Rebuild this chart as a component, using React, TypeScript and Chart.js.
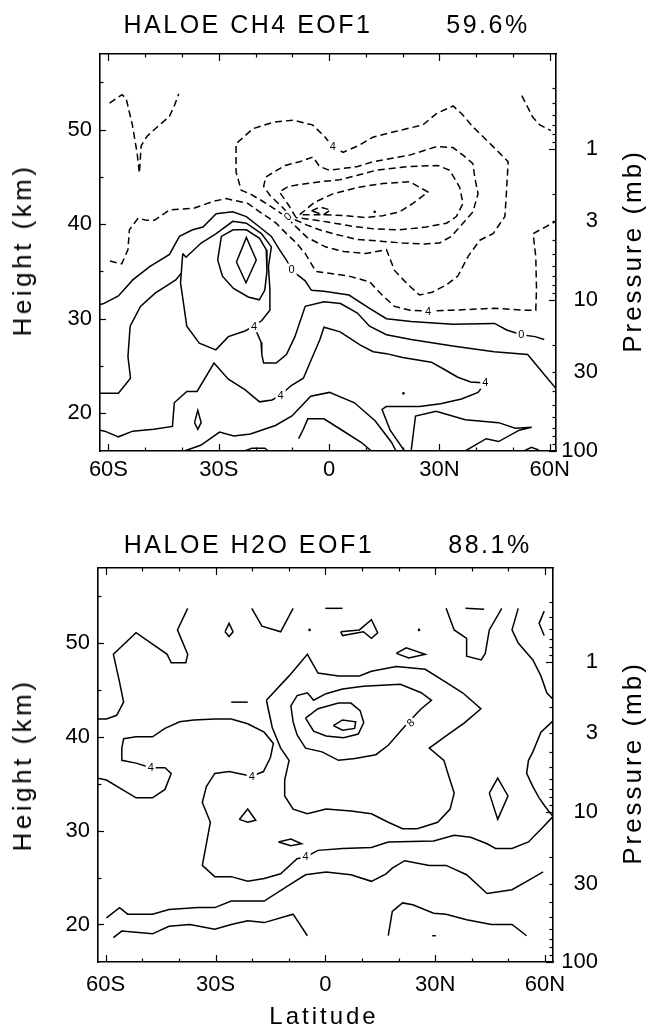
import React, { useEffect, useRef } from "react";
import { Chart, registerables } from "chart.js";

Chart.register(...registerables);

type Pt = [number, number]; // [latitude (deg, S negative), height (km)]
type Label = { text: string; lat: number; km: number; angle?: number };

const FONT = "'Liberation Sans', Arial, Helvetica, sans-serif";

// ---------- axis ticks ----------
const LAT_LABEL_TICKS = [-60, -30, 0, 30, 60];
const LAT_LABELS = ["60S", "30S", "0", "30N", "60N"];
const LAT_MINOR_TICKS = [-60, -50, -40, -30, -20, -10, 0, 10, 20, 30, 40, 50, 60];
const HEIGHT_LABEL_TICKS = [20, 30, 40, 50];
const HEIGHT_MINOR_TICKS = [20, 25, 30, 35, 40, 45, 50, 55];
const PRESSURE_LABEL_TICKS = [1, 3, 10, 30, 100];
const PRESSURE_MINOR_TICKS = [
  0.4, 0.5, 0.6, 0.7, 0.8, 0.9, 1, 2, 3, 4, 5, 6, 7, 8, 9, 10, 20, 30, 40, 50, 60, 70, 80, 90, 100,
];
const PRESSURE_MAJOR_TICKS = [1, 10, 100];
const HEIGHT_MIN = 16;
const HEIGHT_MAX = 58;
const KM_PER_DECADE = 16; // log-pressure height: z = 16 * log10(1000 / p)

// ---------- HALOE CH4 EOF1 contours ----------
// negative (dashed)
const ch4NegV: Pt[] = [
  [-59.7, 52.8], [-56.3, 53.7], [-55.2, 53.3], [-53.5, 50.5], [-52.2, 47.5], [-51.6, 45.4],
  [-51.1, 48.3], [-49.5, 49.3], [-46.1, 50.5], [-43.4, 51.4], [-42, 52.6], [-40.9, 53.8],
];
const ch4NegNE: Pt[] = [[52.4, 53.6], [55.4, 51.3], [57.3, 50.5], [60.3, 49.9]];
const ch4NegOuter: Pt[] = [
  [-59.6, 36.1], [-56.4, 35.8], [-54.7, 37.3], [-54.3, 39.4], [-52, 40.6], [-49.5, 40.4],
  [-47.5, 40.4], [-43.4, 41.5], [-36.6, 41.7], [-31.6, 42.4], [-28, 42.7], [-22.1, 42.2],
  [-18.9, 41.3], [-16.2, 40.6], [-14.4, 40.1], [-11.6, 39], [-8.9, 38], [-6.5, 36.9],
  [-3.6, 35], [0, 34.8], [5.4, 34.5], [11, 33.9], [14.4, 32.5], [17.8, 31.3], [22, 30.9],
  [26.9, 30.8], [33.6, 30.9], [44.9, 31.1], [52.8, 30.9], [56.2, 30.9], [56.4, 33.1],
  [56.2, 36.6], [55.9, 37.5], [55.5, 39], [56.9, 39.3], [61.7, 40.3],
];
const ch4NegC1: Pt[] = [
  [-10, 40.1], [-11.2, 40.6], [-14.4, 41.5], [-18.4, 42.5], [-21.5, 43.2], [-23.9, 43.6],
  [-25.3, 45.5], [-25.3, 48.5], [-20.7, 50.1], [-15, 50.8], [-9.8, 51], [-4.5, 50.5],
  [-1.3, 49.3], [1, 48.2], [3.8, 47.6], [8, 48.3], [11.9, 49.2], [18, 49.8], [25.5, 50.5],
  [29.2, 51.7], [33.7, 52.5], [36, 51.7], [39.1, 50.3], [44.6, 48.2], [48.7, 46.6],
  [48.2, 43.2], [47.8, 40.8], [44.6, 39], [41, 38.3], [37.8, 36.6], [35, 34.5], [32, 33.6],
  [28, 32.8], [24.6, 32.5], [21.2, 33.7], [17.8, 35.1], [15.6, 37.3], [10, 36.9], [4, 37.1],
  [-1, 37.6], [-6, 38.6], [-10, 40.1],
];
const ch4NegC2: Pt[] = [
  [-9.5, 40.5], [-13, 41.9], [-16, 43], [-17.8, 44], [-17.2, 45], [-12, 46.2], [-8, 46.6],
  [-4.4, 47.1], [-2.6, 46.1], [0.1, 45.7], [7.8, 46.1], [11.9, 46.6], [21.9, 47.3],
  [29.2, 48.2], [33.7, 48.1], [36.4, 47.3], [39.1, 46.4], [39.6, 45], [40.5, 43.2],
  [39.1, 41.3], [35.5, 39.7], [33.2, 38.7], [30, 38], [26, 37.9], [20, 38], [14, 38.2],
  [7.4, 38.4], [2, 38.9], [-2.6, 39.4], [-6, 39.9], [-9.5, 40.5],
];
const ch4NegC3: Pt[] = [
  [-9, 40.7], [-11, 42], [-13.5, 43.4], [-11, 44], [-6, 44.3], [-2, 44.5], [2.9, 44.7],
  [8, 45.2], [12.8, 45.7], [21.9, 46.1], [29.6, 46.2], [32.8, 45.7], [35.5, 43.9],
  [36.4, 42.2], [34.6, 40.8], [31.9, 40.1], [26.4, 39.7], [19.2, 39.4], [12, 39.5],
  [6, 39.8], [0, 40.2], [-5, 40.5], [-9, 40.7],
];
const ch4NegC4: Pt[] = [
  [-8, 41], [-4, 42.3], [1, 43.2], [8, 43.9], [14.6, 44.3], [21.9, 44.5], [26.9, 43.4],
  [22.8, 42.2], [19.2, 41.3], [14.6, 40.9], [10, 40.7], [4, 40.9], [-2, 41], [-8, 41],
];
const ch4NegSmall: Pt[] = [[-4.8, 41.4], [-2.5, 41.8], [0.4, 41.5], [-1.5, 41], [-4.8, 41.4]];

// zero and positive (solid)
const ch4Zero: Pt[] = [
  [-62.3, 31.5], [-61.3, 31.6], [-57.3, 32.4], [-53.4, 34.1], [-48.8, 35.5], [-43.4, 36.8],
  [-40.7, 38.7], [-37.1, 39.4], [-34.3, 39.7], [-30.7, 41.1], [-26.2, 41.3], [-22.5, 40.8],
  [-18.9, 39.7], [-15.7, 38.7], [-13.5, 37.3], [-11.6, 36.2], [-10.2, 35.2], [-8.5, 34.6],
  [-6.5, 34], [-4.8, 33], [-1.4, 32.9], [5.4, 32.5], [11, 31.1], [15.6, 30], [22.3, 29.7],
  [33.6, 29.4], [45, 29.5], [48.3, 28.8], [52.3, 28.3], [56, 28.1], [58.5, 27.8],
];
const ch4Pos4Loop: Pt[] = [
  [-39.8, 36.9], [-40.4, 33.8], [-38.7, 29.2], [-35.3, 27.4], [-30.8, 26.7], [-27.4, 28.1],
  [-22.9, 28.7], [-20.4, 29.2], [-18.3, 29.8], [-16.1, 30.9], [-16.1, 33.1], [-16.5, 35.5],
  [-15.7, 37.6], [-18.4, 39], [-22.5, 40.1], [-26.2, 40.3], [-30.7, 39], [-34.8, 38],
  [-38.9, 36.5], [-39.8, 36.9],
];
const ch4Pos8: Pt[] = [
  [-30.3, 36.2], [-29.3, 38.7], [-26.1, 39.4], [-22.5, 39.4], [-18.9, 38.5], [-17.1, 37.3],
  [-16.9, 35], [-17.5, 33], [-19, 32], [-22, 32.3], [-26, 33.2], [-29, 34.5], [-30.3, 36.2],
];
const ch4Pos12: Pt[] = [[-25.2, 36], [-22.5, 38.6], [-19.8, 36.2], [-22.6, 33.8], [-25.2, 36]];
const ch4Pos4West: Pt[] = [
  [-62.3, 22.1], [-57.3, 22.1], [-54, 23.7], [-54.7, 26], [-54.1, 29.2], [-51.3, 31.3],
  [-47.3, 32.7], [-41.7, 34.1], [-40.2, 34.8],
];
const ch4Pos4Low: Pt[] = [
  [-62.3, 18.2], [-61, 18.1], [-57.3, 17.5], [-53.4, 18.1], [-47.7, 18.3], [-42.6, 18.6],
  [-42.1, 21.1], [-38.7, 22.3], [-35.9, 22.3], [-31.3, 25.3], [-27.4, 23.6], [-22.9, 22.5],
  [-18.9, 21.2], [-15.5, 21.4], [-13.2, 21.9], [-10.4, 22.9], [-7, 23.7], [-4.8, 25.7],
  [-2.5, 27.8], [-1.4, 29.1], [3, 28.6], [8.5, 27.2], [12, 26.5], [15.6, 26.3], [20, 25.9],
  [27.8, 25.4], [31, 24.7], [35, 23.8], [38.5, 23.3], [42.5, 23.2], [40.5, 22.2], [36, 21.5],
  [30.3, 21], [24.6, 20.7], [15.5, 20.7], [14.4, 20.4], [16.6, 18.2], [20.5, 16],
];
const ch4Pos4Mid: Pt[] = [
  [-20.4, 29.2], [-18.5, 27.5], [-18.3, 26.2], [-17.8, 25.3], [-14.4, 25.3], [-11.6, 26.2],
  [-9.3, 28.1], [-6.5, 31.3], [-1.4, 31.8], [3.1, 31.6], [7.7, 30.6], [11, 29.2],
  [15.6, 28.3], [22.3, 27.8], [33.6, 27.1], [44.9, 26.5], [54, 26.2], [58.5, 24.1], [61.7, 22.6],
];
const ch4PosBase: Pt[] = [
  [-39.4, 16], [-34.9, 16.6], [-29.8, 18], [-25.9, 17.6], [-21.4, 17.8], [-14.6, 18.7],
  [-10.1, 19.7], [-5, 21.8], [0.1, 22.2], [6.9, 21.1], [12.5, 19.2], [17, 16.9], [18.2, 16],
];
const ch4PosHump: Pt[] = [
  [-8.3, 17.3], [-7, 18.3], [-5.8, 19.4], [-1.4, 19.4], [3.1, 18.3], [8.8, 16.9], [11.5, 16],
];
const ch4PosSE: Pt[] = [
  [22.3, 16], [23.5, 19.7], [29.1, 20.2], [37, 19.3], [46.1, 19], [50.6, 18.4], [55.1, 18.5],
  [51.7, 18.2], [46.1, 17], [42.7, 17.3], [37, 16],
];
const ch4PosSmall: Pt[] = [[-36.6, 19], [-35.7, 20.3], [-34.8, 19], [-35.7, 18.3], [-36.6, 19]];
const ch4BaseArcW: Pt[] = [[-23, 16], [-21, 16.3], [-17.5, 16.3], [-16.5, 16]];
const ch4BaseArcE: Pt[] = [[53, 16], [55, 16.4], [57, 16.1]];
const ch4Dots: Pt[] = [[12.4, 41.3], [20.2, 22.1]];

const ch4Labels: Label[] = [
  { text: "4", lat: 1, km: 48.2 },
  { text: "0", lat: -11.2, km: 40.8, angle: -40 },
  { text: "0", lat: -10.2, km: 35.2 },
  { text: "4", lat: 26.9, km: 30.8 },
  { text: "0", lat: 52.3, km: 28.3 },
  { text: "4", lat: -20.4, km: 29.2 },
  { text: "4", lat: -13.2, km: 21.9 },
  { text: "4", lat: 42.5, km: 23.2 },
];

// ---------- HALOE H2O EOF1 contours (all solid) ----------
const h2oUpperLeft: Pt[] = [
  [-62.1, 41.9], [-59.8, 41.9], [-57, 42.3], [-55.1, 43.7], [-56.2, 45.8], [-57.9, 48.8],
  [-51.7, 51.1], [-43.2, 48.8], [-42.1, 47.9], [-38.1, 47.9], [-37.6, 48.8], [-40.4, 51.4],
  [-37.6, 53.7],
];
const h2oLoopA: Pt[] = [[-27.4, 51.2], [-26.3, 52.1], [-25.2, 51.2], [-26.3, 50.7], [-27.4, 51.2]];
const h2oVWest: Pt[] = [[-20.1, 53.7], [-17.3, 51.8], [-12.2, 51.2], [-8.8, 53.7]];
const h2oTopDashW: Pt[] = [[0, 53.7], [4.7, 53.7]];
const h2oBowtie: Pt[] = [
  [4.2, 51.2], [9.3, 51.4], [12.6, 52.5], [14.3, 51.1], [12.6, 50.5], [10.4, 51.2], [4.7, 50.8], [4.2, 51.2],
];
const h2oLoopB: Pt[] = [[19.4, 48.9], [22.1, 49.5], [27.3, 48.8], [22.8, 48.4], [19.4, 48.9]];
const h2oTopDashE: Pt[] = [[38.3, 53.7], [43.4, 53.6]];
const h2oVEast: Pt[] = [
  [33, 53.7], [35.2, 51.4], [38.6, 50.5], [38.6, 48.6], [42.6, 48.2], [43.7, 48.9], [44.8, 51.4], [48.2, 53.7],
];
const h2oRightUpper: Pt[] = [
  [52.7, 53.7], [51, 51.4], [52.7, 50], [56.7, 48.2], [58.9, 46.5], [60.5, 44.7], [62.2, 44],
];
const h2oRightArc: Pt[] = [[59.8, 53.4], [58.4, 52.1], [59.8, 50.8]];
const h2oRightLower: Pt[] = [
  [62.2, 41.7], [58.9, 40.5], [56.7, 38.4], [55.5, 37.5], [55, 36.1], [56.7, 34.7], [58.4, 33.5],
  [60, 32.6], [62.2, 31.5],
];
const h2oFour: Pt[] = [
  [-62.1, 35.6], [-59.8, 35.4], [-51.7, 33.5], [-47.2, 33.5], [-43.8, 34.4], [-42.1, 36.1],
  [-43.8, 36.7], [-47.7, 36.7], [-51.7, 37.2], [-55.6, 37.5], [-55.6, 38.8], [-55.1, 39.8],
  [-51.7, 40], [-47.2, 40], [-43.8, 40.9], [-39.8, 41.6], [-35.9, 41.8], [-30.2, 41.9],
  [-25.7, 41.9], [-21.2, 41.4], [-16.7, 40.5], [-14.2, 39.3], [-15, 37.8], [-16.9, 36.3],
  [-20.1, 35.8], [-26.3, 36.3], [-30.2, 36.1], [-32.5, 34.7], [-33.6, 33], [-31.4, 30.9],
  [-33.6, 26.3], [-30.2, 25.1], [-25.7, 25.1], [-21.2, 24.6], [-16.7, 24.9], [-12.2, 25.4],
  [-7.7, 27], [-5.4, 27.2], [-2, 27.9], [4.7, 28.1], [12.6, 28.2], [17.2, 28.8], [29.6, 28.9],
  [35.2, 29.5], [39.7, 29.3], [44.2, 28.6], [46.5, 28.1], [51, 28.1], [55.5, 28.8],
  [59.5, 30.4], [62.2, 31.5],
];
const h2oCenter: Pt[] = [
  [-16.1, 43.9], [-9.9, 46.5], [-4.9, 48.8], [-2, 46.8], [3.6, 46.5], [9.3, 46.5], [12.6, 47],
  [19.4, 47.5], [27.3, 47.2], [33, 45.8], [37.5, 44.7], [42.5, 43], [38, 41.5], [33, 40.1],
  [28.4, 38.8], [32.4, 37.5], [33.5, 36.1], [35.2, 34], [34.1, 32.3], [30.7, 30.9],
  [25.1, 30.2], [21.1, 30.2], [17.2, 30.9], [12.6, 31.8], [7, 32.1], [0.2, 32.3], [-4.9, 31.8],
  [-8.8, 32.3], [-11.1, 33.7], [-11.1, 35.4], [-9.9, 37.5], [-12.2, 38.8], [-14.5, 41],
  [-16.1, 43.9],
];
const h2oEight: Pt[] = [
  [22.8, 41.6], [17.2, 39.1], [13.8, 38.1], [8.1, 37.7], [3.6, 37.5], [-0.9, 38.4],
  [-5.4, 38.8], [-7.7, 40.2], [-8.8, 41.6], [-9.4, 43.3], [-7.7, 44.4], [-4.9, 44.7],
  [-3.2, 43.9], [0.2, 44.6], [4.7, 45.1], [10.4, 45.4], [20.5, 45.6], [26.2, 44.7],
  [29, 43.9], [26.2, 43], [22.8, 41.6],
];
const h2oTwelve: Pt[] = [
  [-5.4, 42], [-2, 43], [3.6, 43.6], [7, 43.6], [9.5, 42.8], [10.5, 41.5], [9, 40.3], [5, 39.9],
  [0.2, 40.1], [-3.2, 40.6], [-5.4, 42],
];
const h2oSixteen: Pt[] = [[2.2, 41.2], [4.7, 41.8], [8.3, 41.6], [8, 40.9], [4.7, 40.7], [2.2, 41.2]];
const h2oSmallTri: Pt[] = [[-23.5, 31.2], [-21.2, 32.3], [-19, 31.1], [-21.2, 30.9], [-23.5, 31.2]];
const h2oSmallLoop: Pt[] = [[-12.8, 28.8], [-9.4, 29.1], [-6.5, 28.6], [-9.4, 28.4], [-12.8, 28.8]];
const h2oDiamond: Pt[] = [[44.8, 34], [47.1, 35.6], [49.9, 33.7], [47.1, 31.2], [44.8, 34]];
const h2oDashMid: Pt[] = [[-25.7, 43.7], [-21.2, 43.7]];
const h2oDashLow: Pt[] = [[29.2, 18.8], [30.2, 18.8]];
const h2oLowA: Pt[] = [
  [-59.8, 20.7], [-56.2, 21.8], [-54, 21.1], [-47.2, 21.1], [-42.7, 21.6], [-34.8, 21.8],
  [-30.2, 21.8], [-25.7, 22.5], [-16.7, 22.5], [-9.9, 24.2], [-5.4, 25.3], [0.2, 25.6],
  [7, 25.3], [12.6, 24.6], [16.6, 25.4], [18.3, 26], [21.7, 26.8], [28.4, 26.3], [33, 26.3],
  [38.6, 25.3], [44.2, 23.3], [51, 23.7], [55.5, 24.7], [59.5, 25.6],
];
const h2oLowB: Pt[] = [
  [-57.9, 18.6], [-55.6, 19.3], [-47.2, 19], [-42.7, 19.8], [-37, 20], [-30.2, 19.5],
  [-25.7, 20], [-21.2, 20.4], [-16.7, 20.2], [-8.8, 21.1], [-4.9, 18.8],
];
const h2oLowC: Pt[] = [
  [17.2, 18.8], [18.3, 21.4], [21.1, 22.3], [23.9, 22.1], [29.6, 21.2], [33, 21.1],
  [38.6, 20.5], [45.4, 20], [51, 20], [55, 18.8],
];
const h2oDots: Pt[] = [[-4.3, 51.4], [25.6, 51.4]];

const h2oLabels: Label[] = [
  { text: "4", lat: -47.7, km: 36.7 },
  { text: "4", lat: -20.1, km: 35.8 },
  { text: "4", lat: -5.4, km: 27.2 },
  { text: "8", lat: 23.3, km: 41.5, angle: -45 },
];

// ---------- chart construction ----------
type Frame = { left: number; right: number; top: number; bottom: number };
type PanelProps = {
  solid: Pt[][];
  dashed: Pt[][];
  dots: Pt[];
  labels: Label[];
  latMin: number;
  latMax: number;
  frame: Frame;
  xLabelPad: number;
};

const CANVAS_W = 649;
const CANVAS_H = 515;
const RIGHT_LABEL_EDGE = 598;

const pressureAt = (km: number) => 1000 / Math.pow(10, km / KM_PER_DECADE);

const innerTicksPlugin = {
  id: "innerTicks",
  afterDraw(chart: any) {
    const { ctx, chartArea: a, scales } = chart;
    ctx.save();
    ctx.strokeStyle = "#000";
    ctx.lineWidth = 1.2;
    const mark = (x1: number, y1: number, x2: number, y2: number) => {
      ctx.beginPath();
      ctx.moveTo(x1, y1);
      ctx.lineTo(x2, y2);
      ctx.stroke();
    };
    for (const v of LAT_MINOR_TICKS) {
      const x = Math.round(scales.x.getPixelForValue(v)) + 0.5;
      const len = v % 30 === 0 ? 7 : 3.5;
      mark(x, a.bottom, x, a.bottom - len);
      mark(x, a.top, x, a.top + len);
    }
    for (const v of HEIGHT_MINOR_TICKS) {
      const y = Math.round(scales.y.getPixelForValue(v)) + 0.5;
      mark(a.left, y, a.left + (v % 10 === 0 ? 6 : 3.5), y);
    }
    for (const v of PRESSURE_MINOR_TICKS) {
      const y = Math.round(scales.yP.getPixelForValue(v)) + 0.5;
      mark(a.right, y, a.right - (PRESSURE_MAJOR_TICKS.includes(v) ? 7 : 3.5), y);
    }
    ctx.restore();
  },
};

function contourLabelPlugin(labels: Label[]) {
  return {
    id: "contourLabels",
    afterDatasetsDraw(chart: any) {
      const { ctx, scales } = chart;
      ctx.save();
      ctx.font = `11px ${FONT}`;
      ctx.textAlign = "center";
      ctx.textBaseline = "middle";
      for (const l of labels) {
        const px = scales.x.getPixelForValue(l.lat);
        const py = scales.y.getPixelForValue(l.km);
        const w = ctx.measureText(l.text).width;
        ctx.save();
        ctx.translate(px, py);
        ctx.rotate(((l.angle || 0) * Math.PI) / 180);
        ctx.fillStyle = "#fff";
        ctx.fillRect(-w / 2 - 2, -6, w + 4, 12);
        ctx.fillStyle = "#000";
        ctx.fillText(l.text, 0, 0.5);
        ctx.restore();
      }
      ctx.restore();
    },
  };
}

function buildConfig(p: PanelProps): any {
  const toXY = (c: Pt[]) => c.map(([x, y]) => ({ x, y }));
  const line = (c: Pt[], dash: number[]) => ({
    data: toXY(c),
    showLine: true,
    borderColor: "#000",
    borderWidth: 1.5,
    borderDash: dash,
    pointRadius: 0,
    pointHoverRadius: 0,
    fill: false,
    tension: 0,
  });
  const datasets = [
    ...p.solid.map((c) => line(c, [])),
    ...p.dashed.map((c) => line(c, [7, 4])),
    {
      data: toXY(p.dots),
      showLine: false,
      pointRadius: 1.3,
      pointBackgroundColor: "#000",
      pointBorderWidth: 0,
    },
  ];
  const border = { display: true, color: "#000", width: 1.6 };
  const tickFont = { family: FONT, size: 22 };
  return {
    type: "scatter",
    data: { datasets },
    options: {
      animation: false,
      responsive: false,
      devicePixelRatio: 1,
      events: [],
      layout: { padding: { left: 0, right: CANVAS_W - RIGHT_LABEL_EDGE, top: p.frame.top, bottom: 0 } },
      plugins: { legend: { display: false }, tooltip: { enabled: false }, title: { display: false } },
      scales: {
        x: {
          type: "linear",
          axis: "x",
          position: "bottom",
          min: p.latMin,
          max: p.latMax,
          grid: { display: false, drawTicks: false },
          border,
          afterBuildTicks: (s: any) => {
            s.ticks = LAT_LABEL_TICKS.map((value) => ({ value }));
          },
          ticks: {
            autoSkip: false,
            maxRotation: 0,
            padding: p.xLabelPad,
            color: "#000",
            font: tickFont,
            callback: (v: number) => LAT_LABELS[LAT_LABEL_TICKS.indexOf(v)] ?? "",
          },
          afterFit: (s: any) => {
            s.height = CANVAS_H - p.frame.bottom;
          },
        },
        xTop: {
          type: "linear",
          axis: "x",
          position: "top",
          min: p.latMin,
          max: p.latMax,
          grid: { display: false, drawTicks: false },
          border,
          ticks: { display: false },
          afterFit: (s: any) => {
            s.height = 0;
          },
        },
        y: {
          type: "linear",
          axis: "y",
          position: "left",
          min: HEIGHT_MIN,
          max: HEIGHT_MAX,
          grid: { display: false, drawTicks: false },
          border,
          afterBuildTicks: (s: any) => {
            s.ticks = HEIGHT_LABEL_TICKS.map((value) => ({ value }));
          },
          ticks: { autoSkip: false, padding: 8, color: "#000", font: tickFont },
          afterFit: (s: any) => {
            s.width = p.frame.left;
          },
        },
        yP: {
          type: "logarithmic",
          axis: "y",
          position: "right",
          reverse: true,
          min: pressureAt(HEIGHT_MAX),
          max: pressureAt(HEIGHT_MIN),
          grid: { display: false, drawTicks: false },
          border,
          afterBuildTicks: (s: any) => {
            s.ticks = PRESSURE_LABEL_TICKS.map((value) => ({ value }));
          },
          ticks: {
            autoSkip: false,
            crossAlign: "far",
            padding: 0,
            color: "#000",
            font: tickFont,
            callback: (v: number) => String(v),
          },
          afterFit: (s: any) => {
            s.width = RIGHT_LABEL_EDGE - p.frame.right;
          },
        },
      },
    },
    plugins: [innerTicksPlugin, contourLabelPlugin(p.labels)],
  };
}

function ContourPanel(props: PanelProps) {
  const ref = useRef<HTMLCanvasElement | null>(null);
  useEffect(() => {
    if (!ref.current) return;
    const chart = new Chart(ref.current, buildConfig(props));
    return () => chart.destroy();
  }, []);
  return (
    <canvas
      ref={ref}
      width={CANVAS_W}
      height={CANVAS_H}
      style={{ display: "block", width: CANVAS_W, height: CANVAS_H }}
    />
  );
}

const textBase: React.CSSProperties = {
  position: "absolute",
  fontFamily: FONT,
  color: "#000",
  whiteSpace: "nowrap",
  lineHeight: 1,
};

function Text(props: { x: number; y: number; size: number; spacing: number; rotate?: boolean; children: string }) {
  return (
    <div
      style={{
        ...textBase,
        left: props.x,
        top: props.y,
        fontSize: props.size,
        letterSpacing: `${props.spacing}px`,
        transform: `translate(-50%, -50%)${props.rotate ? " rotate(-90deg)" : ""}`,
      }}
    >
      {props.children}
    </div>
  );
}

export default function App() {
  Chart.defaults.font.family = FONT;
  Chart.defaults.color = "#000";
  return (
    <div style={{ position: "absolute", left: 0, top: 0, width: CANVAS_W, height: 1030, background: "#fff" }}>
      <div style={{ position: "absolute", left: 0, top: 0 }}>
        <ContourPanel
          solid={[
            ch4Zero, ch4Pos4Loop, ch4Pos8, ch4Pos12, ch4Pos4West, ch4Pos4Low, ch4Pos4Mid,
            ch4PosBase, ch4PosHump, ch4PosSE, ch4PosSmall, ch4BaseArcW, ch4BaseArcE,
          ]}
          dashed={[ch4NegV, ch4NegNE, ch4NegOuter, ch4NegC1, ch4NegC2, ch4NegC3, ch4NegC4, ch4NegSmall]}
          dots={ch4Dots}
          labels={ch4Labels}
          latMin={-62.3}
          latMax={61.7}
          frame={{ left: 100, right: 556, top: 54, bottom: 451 }}
          xLabelPad={6}
        />
      </div>
      <div style={{ position: "absolute", left: 0, top: CANVAS_H }}>
        <ContourPanel
          solid={[
            h2oUpperLeft, h2oLoopA, h2oVWest, h2oTopDashW, h2oBowtie, h2oLoopB, h2oTopDashE,
            h2oVEast, h2oRightUpper, h2oRightArc, h2oRightLower, h2oFour, h2oCenter, h2oEight,
            h2oTwelve, h2oSixteen, h2oSmallTri, h2oSmallLoop, h2oDiamond, h2oDashMid, h2oDashLow,
            h2oLowA, h2oLowB, h2oLowC,
          ]}
          dashed={[]}
          dots={h2oDots}
          labels={h2oLabels}
          latMin={-62.1}
          latMax={62.2}
          frame={{ left: 98, right: 553, top: 53, bottom: 447 }}
          xLabelPad={10}
        />
      </div>

      <Text x={124 + 124} y={24} size={25} spacing={2.5}>HALOE CH4 EOF1</Text>
      <Text x={488} y={24} size={25} spacing={2.5}>59.6%</Text>
      <Text x={22} y={250} size={26} spacing={3.5} rotate>Height (km)</Text>
      <Text x={632} y={251} size={26} spacing={3} rotate>Pressure (mb)</Text>

      <Text x={124 + 125} y={543.5} size={25} spacing={2.5}>HALOE H2O EOF1</Text>
      <Text x={490} y={543.5} size={25} spacing={2.5}>88.1%</Text>
      <Text x={22} y={765} size={26} spacing={3.5} rotate>Height (km)</Text>
      <Text x={632} y={763} size={26} spacing={3} rotate>Pressure (mb)</Text>

      <Text x={324} y={1016} size={24} spacing={3}>Latitude</Text>
    </div>
  );
}
